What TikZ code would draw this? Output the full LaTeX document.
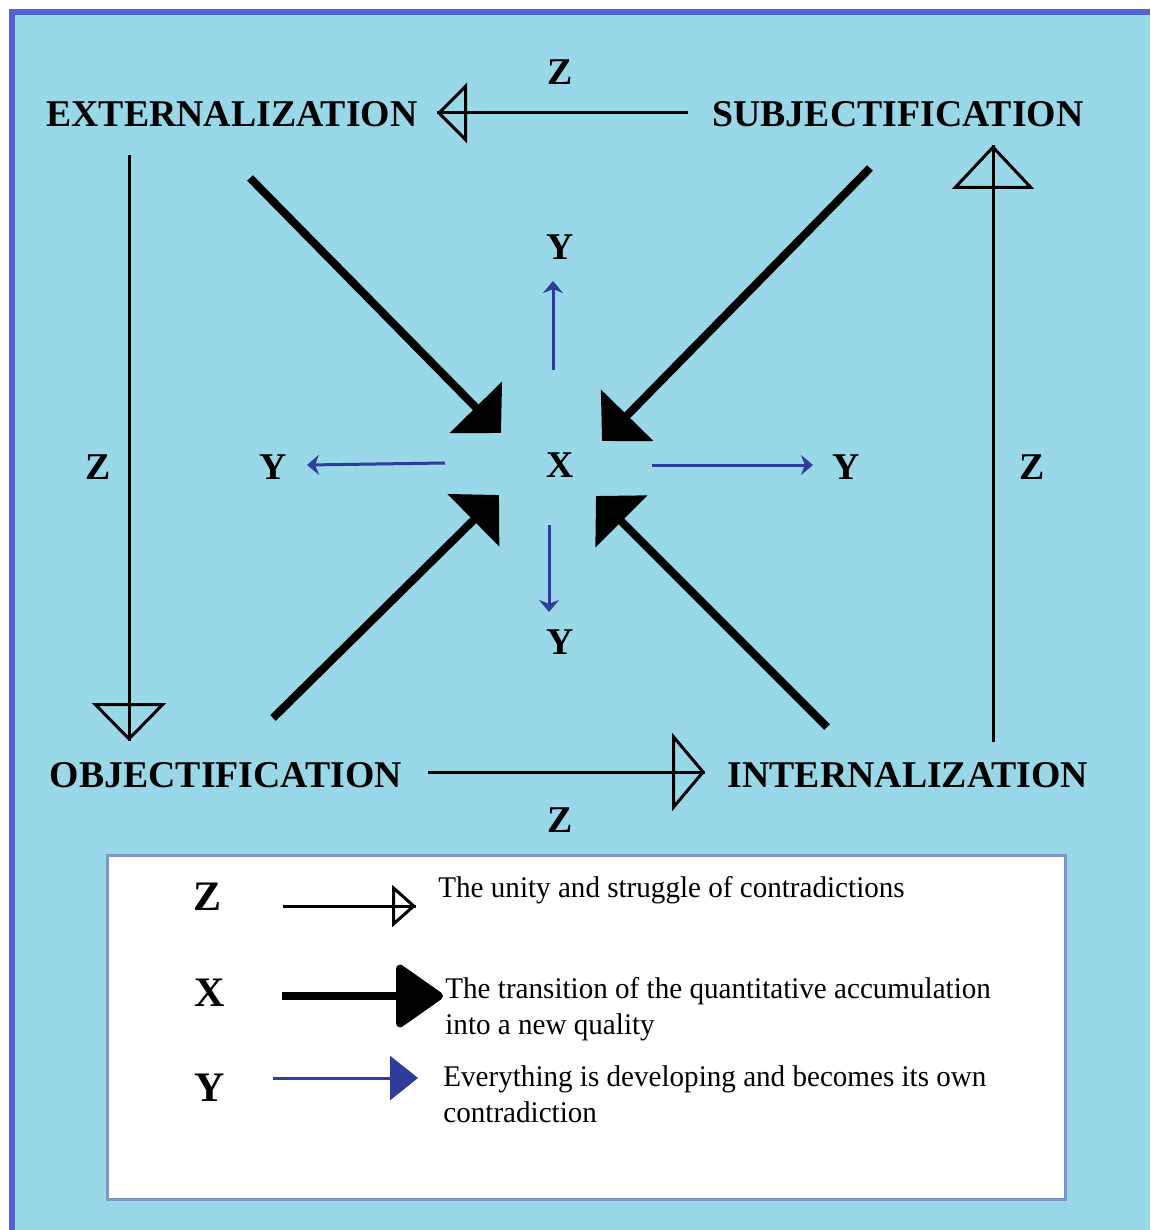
\documentclass[tikz,border=0pt]{standalone}
\usepackage{fontspec}
\setmainfont{Liberation Serif}
\newfontfamily\legendfont[FakeStretch=0.97]{Liberation Serif}
\usetikzlibrary{arrows.meta,positioning}
\definecolor{skyfill}{HTML}{98D8E9}
\definecolor{frameblue}{HTML}{4F63D3}
\definecolor{yblue}{HTML}{2E3C9C}
\definecolor{legendframe}{HTML}{7C98C2}

\begin{document}
\begin{tikzpicture}[x=0.5pt,y=-0.5pt,>=Latex,
  stage/.style={font=\bfseries\fontsize{18.9}{20}\selectfont,inner sep=0pt},
  key/.style={font=\bfseries\fontsize{21}{22}\selectfont,inner sep=0pt},
  legtext/.style={font=\legendfont\fontsize{15}{18}\selectfont,inner sep=0pt,align=left},
  zline/.style={line width=1.5pt},
  zhead/.style n args={2}{zline,-{Triangle[open,length=#1,width=#2]}},
  xarrow/.style={line width=4pt,-{Triangle[length=18pt,width=36pt]}},
  yarrow/.style={yblue,line width=1.5pt,-{Stealth[length=6pt,width=10pt]}}]
  \useasboundingbox (0,0) rectangle (1150,1230);
  \fill[white] (0,0) rectangle (1150,1230);
  \fill[skyfill] (9,9) rectangle (1150,1230);
  \draw[frameblue,line width=3pt] (12,1230) -- (12,12) -- (1150,12);

  % the four stages
  \node[stage] (ext)  at (232,114) {EXTERNALIZATION};
  \node[stage] (subj) at (898,114) {SUBJECTIFICATION};
  \node[stage] (obj)  at (226,775) {OBJECTIFICATION};
  \node[stage] (int)  at (908,775) {INTERNALIZATION};

  \node[stage] (zt) at (560,72)  {Z};
  \node[stage] (zl) at (98,467)  {Z};
  \node[stage] (zr) at (1032,467) {Z};
  \node[stage] (zb) at (560,820) {Z};

  \node[stage] (x) at (560,465) {X};
  \node[stage] (yu) at (560,247) {Y};
  \node[stage] (yd) at (560,642) {Y};
  \node[stage] (yl) at (273,467) {Y};
  \node[stage] (yr) at (846,467) {Y};

  % Z: open heads, line runs on to the tip
  \coordinate (zt-a) at (688,113); \coordinate (zt-b) at (437,113);
  \coordinate (zl-a) at (129,155); \coordinate (zl-b) at (129,741);
  \coordinate (zr-a) at (993,742); \coordinate (zr-b) at (993,145);
  \coordinate (zb-a) at (428,772); \coordinate (zb-b) at (705,772);
  \draw[zhead={15pt}{30pt}] (zt-a) -- (zt-b);
  \draw[zhead={19pt}{37pt}] (zl-a) -- (zl-b);
  \draw[zhead={22pt}{41pt}] (zr-a) -- (zr-b);
  \draw[zhead={16.5pt}{39pt}] (zb-a) -- (zb-b);
  \foreach \z in {zt,zl,zr,zb}
    \draw[zline] (\z-a) -- (\z-b);

  % X: towards the centre
  \coordinate (xa1) at (250,178); \coordinate (xb1) at (501,433);
  \coordinate (xa2) at (870,168); \coordinate (xb2) at (602,441);
  \coordinate (xa3) at (273,718); \coordinate (xb3) at (499,495);
  \coordinate (xa4) at (827,727); \coordinate (xb4) at (596,496);
  \foreach \i in {1,...,4}
    \draw[xarrow] (xa\i) -- (xb\i);

  % Y: away from the centre
  \coordinate (yu-a) at (553,370); \coordinate (yu-b) at (553,281);
  \coordinate (yd-a) at (549,525); \coordinate (yd-b) at (549,612);
  \coordinate (yl-a) at (445,463); \coordinate (yl-b) at (307,465);
  \coordinate (yr-a) at (652,465); \coordinate (yr-b) at (813,465);
  \foreach \y in {yu,yd,yl,yr}
    \draw[yarrow] (\y-a) -- (\y-b);

  % legend
  \draw[legendframe,line width=1.5pt,fill=white] (107,855) rectangle (1065,1199);
  \node[key] (kz) at (208,897)  {Z};
  \node[key] (kx) at (210,993)  {X};
  \node[key] (ky) at (210,1088) {Y};

  \coordinate (kz-a) at (283,906); \coordinate (kz-b) at (416,906);
  \draw[zhead={12pt}{21pt}] (kz-a) -- (kz-b);
  \draw[zline] (kz-a) -- (kz-b);
  \coordinate (kx-a) at (282,996); \coordinate (kx-b) at (443,996);
  \draw[line width=4pt,-{Triangle[length=25pt,width=34pt,round]}] (kx-a) -- (kx-b);
  \coordinate (ky-a) at (273,1078); \coordinate (ky-b) at (418,1078);
  \draw[yblue,line width=1.5pt,-{Triangle[length=14pt,width=22pt]}] (ky-a) -- (ky-b);

  \node[legtext,anchor=base west] (tz) at (438,897)
    {The unity and struggle of contradictions};
  \node[legtext,anchor=base west] (tx) at (445,1034)
    {The transition of the quantitative accumulation\\into a new quality};
  \node[legtext,anchor=base west] (ty) at (443,1122)
    {Everything is developing and becomes its own\\contradiction};
\end{tikzpicture}
\end{document}
